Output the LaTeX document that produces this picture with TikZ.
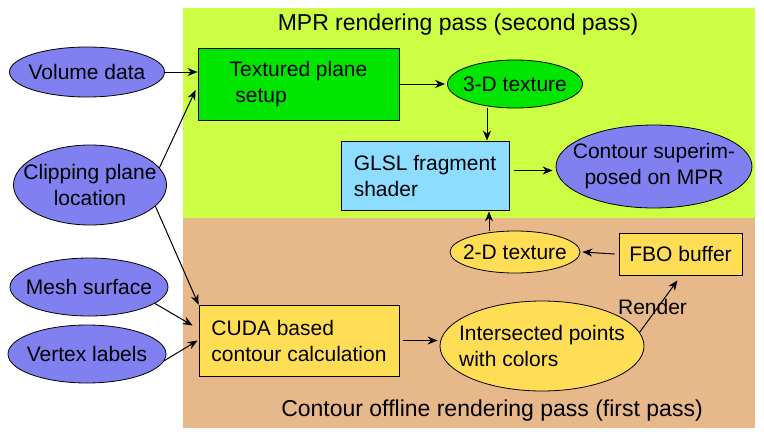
\documentclass[tikz,border=0pt]{standalone}
\usepackage{fontspec}
\setmainfont{Liberation Sans}
\usetikzlibrary{arrows.meta,shapes,positioning,calc}
\definecolor{mprgreen}{RGB}{204,255,68}
\definecolor{offtan}{RGB}{230,184,138}
\definecolor{boxgreen}{RGB}{0,230,0}
\definecolor{shaderblue}{RGB}{140,221,255}
\definecolor{inblue}{RGB}{128,128,240}
\definecolor{procyellow}{RGB}{255,221,85}

\begin{document}
\begin{tikzpicture}[x=1pt,y=-1pt,>={Stealth[length=10pt,width=8pt]},font=\fontsize{21}{26}\selectfont]
            \tikzstyle{data}=[ellipse,draw,fill=inblue,line width=0.8pt,inner xsep=-15pt,inner ysep=0pt,align=center]
            \tikzstyle{proc}=[rectangle,draw,line width=0.8pt,inner sep=0pt,align=left]
            \tikzstyle{passtitle}=[inner sep=0pt,font=\fontsize{23}{28}\selectfont]
            \tikzstyle{flow}=[->,line width=1pt]

            \useasboundingbox (0,0) rectangle (764,437);
            \fill [mprgreen] (183,8) rectangle (755,218);     %second pass
            \fill [offtan] (183,218) rectangle (755,428);     %first pass
            \node [passtitle] (mprtitle) at (458,25) {MPR rendering pass (second pass)};
            \node [passtitle] (offtitle) at (492,411) {Contour offline rendering pass (first pass)};

            % inputs
            \node [data,minimum width=155pt,minimum height=50pt] (vol) at (87,72) {Volume data};
            \node [data,minimum width=153pt,minimum height=80pt] (clip) at (90,185) {Clipping plane\\location};
            \node [data,minimum width=158pt,minimum height=58pt] (mesh) at (89,287) {Mesh surface};
            \node [data,minimum width=158pt,minimum height=58pt] (vert) at (87,354) {Vertex labels};

            % second pass
            \node [proc,fill=boxgreen,minimum width=201pt,minimum height=72pt] (tex) at (298.5,84) {Textured plane\\\ setup};
            \node [data,fill=boxgreen,minimum width=135pt,minimum height=48pt] (tex3d) at (515,84) {3-D texture};
            \node [proc,fill=shaderblue,minimum width=168pt,minimum height=69pt] (glsl) at (425,175.5) {GLSL fragment\\shader};
            \node [data,minimum width=196pt,minimum height=83pt] (contour) at (654,166.5) {Contour superim-\\posed on MPR};

            % first pass
            \node [proc,fill=procyellow,minimum width=200pt,minimum height=71pt] (cuda) at (299,340.5) {CUDA based\\contour calculation};
            \node [data,fill=procyellow,minimum width=204pt,minimum height=90pt,align=left] (inter) at (542,346) {Intersected points\\with colors};
            \node [proc,fill=procyellow,minimum width=123pt,minimum height=42pt] (fbo) at (680.5,254) {FBO buffer};
            \node [data,fill=procyellow,minimum width=130pt,minimum height=42pt] (tex2d) at (515,252) {2-D texture};

            \draw [flow] (vol.east) -- ([yshift=12pt]tex.west);
            \draw [flow] (clip.14) -- ([xshift=-2pt,yshift=-6pt]tex.west);
            \draw [flow] (clip.-18) -- (cuda.north west);
            \draw [flow] (mesh.-14) -- ([xshift=-6pt,yshift=15pt]cuda.west);
            \draw [flow] (vert.-5) -- ([xshift=-1pt]cuda.west);
            \draw [flow] (tex.east) -- ([xshift=-2pt]tex3d.west);
            \draw [flow] ([xshift=-28pt]tex3d.south) -- ([xshift=-28pt]tex3d.south |- glsl.north);
            \draw [flow] ([xshift=5pt,yshift=5pt]glsl.east) -- ([xshift=-3pt,yshift=5pt]glsl.east -| contour.west);
            \draw [flow] ([xshift=4pt]cuda.east) -- ([xshift=-2pt]cuda.east -| inter.west);
            \draw [flow] (inter.8) -- node [xshift=-6pt,yshift=-1pt] (render) {Render} ([xshift=-3pt,yshift=-5pt]fbo.south);
            \draw [flow] ([xshift=-4pt]fbo.west) -- ([xshift=2pt]tex2d.east);
            \draw [flow] ([xshift=-26pt]tex2d.north) -- ([xshift=-26pt,yshift=-1pt]tex2d.north |- glsl.south);
\end{tikzpicture}
\end{document}
